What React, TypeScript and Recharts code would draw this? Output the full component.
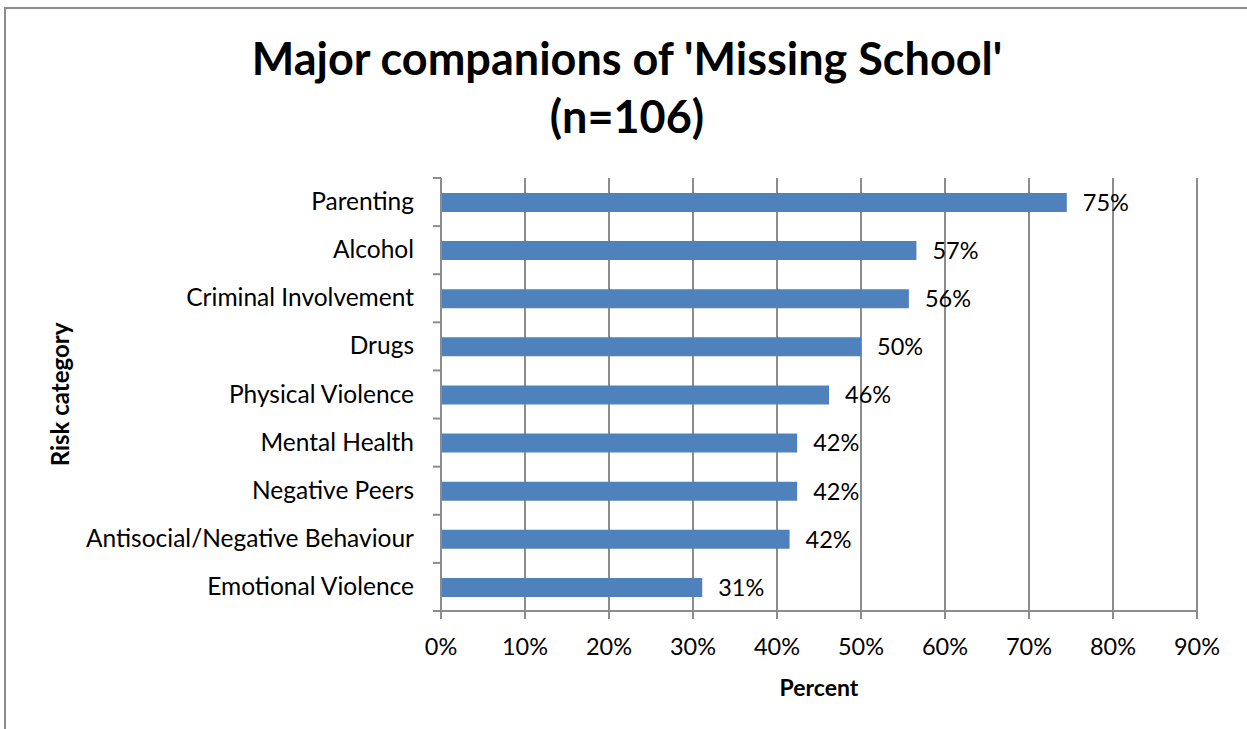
import React from "react";
import { BarChart, Bar, XAxis, YAxis, CartesianGrid, LabelList } from "recharts";

const categories = [
  "Parenting",
  "Alcohol",
  "Criminal Involvement",
  "Drugs",
  "Physical Violence",
  "Mental Health",
  "Negative Peers",
  "Antisocial/Negative Behaviour",
  "Emotional Violence",
];
const values = [74.5, 56.6, 55.7, 50.0, 46.2, 42.4, 42.4, 41.5, 31.1];
const xTicks = [0, 10, 20, 30, 40, 50, 60, 70, 80, 90];

const data = categories.map((c, i) => ({ name: c, value: values[i] }));

const FONT = "Lato, 'Open Sans', sans-serif";
const GRID = "#8c8c8c";
const Y_TICK_MARGIN = 27;

const CategoryTick = (props: any) => {
  const { x, y, payload, index, visibleTicksCount } = props;
  const half = payload && payload.offset ? payload.offset : 24;
  const lx2 = x + Y_TICK_MARGIN;
  const lx1 = lx2 - 8;
  return (
    <g>
      <line x1={lx1} x2={lx2} y1={y - half} y2={y - half} stroke={GRID} strokeWidth={2} />
      {index === visibleTicksCount - 1 ? (
        <line x1={lx1} x2={lx2} y1={y + half} y2={y + half} stroke={GRID} strokeWidth={2} />
      ) : null}
      <text x={x} y={y} dy={8} textAnchor="end" fill="#000" fontSize={24.5} fontFamily={FONT}>
        {payload.value}
      </text>
    </g>
  );
};

export default function App() {
  return (
    <div style={{ position: "absolute", left: 0, top: 0, width: 1247, height: 729, background: "#fff", overflow: "hidden", fontFamily: FONT }}>
      <div style={{ position: "absolute", left: 4, top: 7, width: 1300, height: 800, borderTop: `2px solid ${GRID}`, borderLeft: `2px solid ${GRID}` }} />
      <div style={{ position: "absolute", left: 0, top: 29, width: 1254, textAlign: "center", fontWeight: 700, fontSize: 45, lineHeight: "58px", color: "#000" }}>
        Major companions of 'Missing School'
        <br />
        (n=106)
      </div>
      <div style={{ position: "absolute", left: 0, top: 0 }}>
        <BarChart
          width={1247}
          height={729}
          data={data}
          layout="vertical"
          margin={{ top: 178, right: 50, bottom: 38, left: 141 }}
          style={{ fontFamily: FONT }}
        >
          <CartesianGrid horizontal={false} vertical={true} stroke={GRID} strokeWidth={2} />
          <XAxis
            type="number"
            dataKey="value"
            domain={[0, 90]}
            ticks={xTicks}
            interval={0}
            tickFormatter={(v: number) => `${v}%`}
            axisLine={{ stroke: GRID, strokeWidth: 2 }}
            tickLine={{ stroke: GRID, strokeWidth: 2 }}
            tickSize={8}
            tickMargin={19}
            tick={{ fill: "#000", fontSize: 23.5, fontFamily: FONT }}
            height={80}
            label={{ value: "Percent", position: "insideTop", dy: 64, fill: "#000", fontSize: 23, fontWeight: 700, fontFamily: FONT }}
          />
          <YAxis
            type="category"
            dataKey="name"
            width={300}
            axisLine={{ stroke: GRID, strokeWidth: 2 }}
            tickLine={false}
            tickSize={0}
            interval={0}
            tickMargin={Y_TICK_MARGIN}
            tick={<CategoryTick />}
            label={{ value: "Risk category", angle: -90, position: "center", dx: -231, fill: "#000", fontSize: 24, fontWeight: 700, fontFamily: FONT }}
          />
          <Bar dataKey="value" fill="#4F81BD" barSize={19} isAnimationActive={false}>
            <LabelList
              dataKey="value"
              position="right"
              offset={16}
              formatter={(v: number) => `${Math.round(v)}%`}
              style={{ fill: "#000", fontSize: 23.5, fontFamily: FONT }}
            />
          </Bar>
        </BarChart>
      </div>
    </div>
  );
}
